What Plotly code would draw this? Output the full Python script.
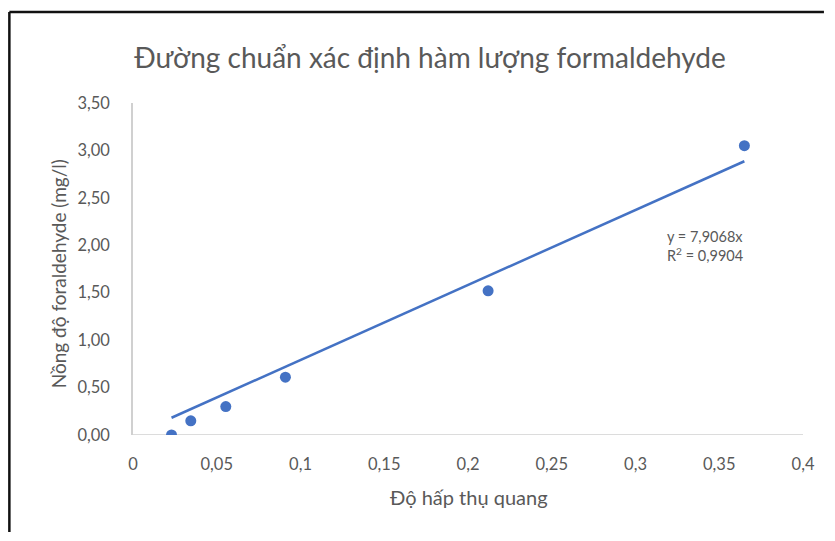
import plotly.graph_objects as go

# Data
absorbance = [0.023, 0.0345, 0.0554, 0.091, 0.212, 0.365]
concentration = [0.0, 0.15, 0.30, 0.61, 1.52, 3.05]
slope = 7.9068
r_squared_text = "0,9904"

x_tick_vals = [0, 0.05, 0.1, 0.15, 0.2, 0.25, 0.3, 0.35, 0.4]
x_tick_text = ["0", "0,05", "0,1", "0,15", "0,2", "0,25", "0,3", "0,35", "0,4"]
y_tick_vals = [0, 0.5, 1.0, 1.5, 2.0, 2.5, 3.0, 3.5]
y_tick_text = ["0,00", "0,50", "1,00", "1,50", "2,00", "2,50", "3,00", "3,50"]

title_text = "Đường chuẩn xác định hàm lượng formaldehyde"
x_title = "Độ hấp thụ quang"
y_title = "Nồng độ foraldehyde (mg/l)"

BLUE = "#4472C4"
GRAY = "#595959"
FONT = "Lato"

# page body adds an 8px margin; figure is sized to fit the window without scrollbars
OFF = 8
W, H = 835 - 2 * OFF, 541 - 2 * OFF
PL, PR, PT, PB = 133, 805, 103, 435   # plot area in window pixels
PW, PH = PR - PL, PB - PT

trend_x = [min(absorbance), max(absorbance)]
trend_y = [slope * v for v in trend_x]

fig = go.Figure()
fig.add_trace(go.Scatter(
    x=trend_x, y=trend_y, mode="lines",
    line=dict(color=BLUE, width=2.5), hoverinfo="skip", showlegend=False))
fig.add_trace(go.Scatter(
    x=absorbance, y=concentration, mode="markers",
    marker=dict(color=BLUE, size=11), showlegend=False))

fig.update_layout(
    width=W, height=H,
    margin=dict(l=PL - OFF, r=W - (PR - OFF), t=PT - OFF, b=H - (PB - OFF)),
    paper_bgcolor="white", plot_bgcolor="white",
    separators=",.",
    font=dict(family=FONT, color=GRAY, size=13),
    title=dict(text=title_text, x=(430 - OFF) / W, xanchor="center",
               y=1 - (58 - OFF) / H, yanchor="middle",
               font=dict(family=FONT, size=28, color=GRAY)),
    xaxis=dict(range=[0, 0.4], tickvals=x_tick_vals, ticktext=x_tick_text,
               showgrid=False, zeroline=False, showline=False,
               ticks="", ticklabelstandoff=17,
               tickfont=dict(family=FONT, size=16.5, color=GRAY)),
    yaxis=dict(range=[0, 3.5], tickvals=y_tick_vals, ticktext=y_tick_text,
               showgrid=False, zeroline=False, showline=True,
               linecolor="#D0D0D0", linewidth=1.5,
               ticks="", ticklabelstandoff=18,
               tickfont=dict(family=FONT, size=16.5, color=GRAY)),
    showlegend=False,
)

# x axis baseline
fig.add_shape(type="line", xref="paper", yref="y", x0=0, x1=1, y0=0, y1=0,
              line=dict(color="#D0D0D0", width=1.5), layer="below")

# outer frame of the chart: only top and left edges are visible, kept inside the figure
fx0 = (9 - PL) / PW
fy1 = 1 + (PT - 12) / PH
fx_end = (W + OFF - 1 - PL) / PW
fy_end = -(H + OFF - 1 - PB) / PH
fig.add_shape(type="line", xref="paper", yref="paper",
              x0=fx0, x1=fx_end, y0=fy1, y1=fy1,
              line=dict(color="#111111", width=2.5))
fig.add_shape(type="line", xref="paper", yref="paper",
              x0=fx0, x1=fx0, y0=fy1, y1=fy_end,
              line=dict(color="#111111", width=2.5))

# axis titles
fig.add_annotation(text=x_title, xref="paper", yref="paper",
                   x=(470 - PL) / PW, y=-(497 - PB) / PH,
                   xanchor="center", yanchor="middle", showarrow=False,
                   font=dict(family=FONT, size=20, color=GRAY))
fig.add_annotation(text=y_title, xref="paper", yref="paper",
                   x=(58 - PL) / PW, y=(PB - 274) / PH, textangle=-90,
                   xanchor="center", yanchor="middle", showarrow=False,
                   font=dict(family=FONT, size=19, color=GRAY))

# trendline equation
fig.add_annotation(text=f"y = {str(slope).replace('.', ',')}x<br>R<sup>2</sup> = {r_squared_text}",
                   xref="paper", yref="paper",
                   x=(667 - PL) / PW, y=(PB - 246) / PH,
                   xanchor="left", yanchor="middle", align="left", showarrow=False,
                   font=dict(family=FONT, size=14.5, color=GRAY))

fig.write_html("out.html")
